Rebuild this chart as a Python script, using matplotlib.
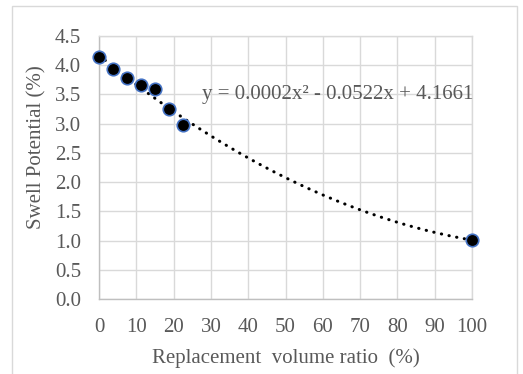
import numpy as np
import matplotlib
matplotlib.use("Agg")
import matplotlib.pyplot as plt
from matplotlib.patches import Rectangle

ratio = [0, 3.75, 7.5, 11.25, 15, 18.75, 22.5, 100]
swell = [4.14, 3.93, 3.78, 3.67, 3.60, 3.25, 2.97, 1.01]
x_ticks = [0, 10, 20, 30, 40, 50, 60, 70, 80, 90, 100]
y_ticks = [0.0, 0.5, 1.0, 1.5, 2.0, 2.5, 3.0, 3.5, 4.0, 4.5]
equation = "y = 0.0002x\u00b2 - 0.0522x + 4.1661"

plt.rcParams['font.family'] = ['Liberation Serif', 'DejaVu Serif']
txt = '#595959'

fig = plt.figure(figsize=(5.23, 3.74), dpi=100)
W, H = 523, 374
ax = fig.add_axes([99 / W, 1 - 299 / H, (472 - 99) / W, (299 - 36) / H])

# outer chart border
fig.patches.append(Rectangle((12 / W, -0.05), (517 - 12) / W, 1 - 6 / H + 0.05,
                             transform=fig.transFigure, fill=False,
                             edgecolor='#d9d9d9', linewidth=1.0))

coef = np.polyfit(ratio, swell, 2)
xs = np.linspace(0, 100, 300)
ax.plot(xs, np.polyval(coef, xs), color='black', linestyle=(0, (0.1, 2.45)),
        linewidth=2.2, dash_capstyle='round', zorder=3)
ax.plot(ratio, swell, 'o', markersize=9, markerfacecolor='black',
        markeredgecolor='#4472C4', markeredgewidth=1.2, zorder=4, clip_on=False)

ax.set_xlim(0, 100)
ax.set_ylim(0, 4.5)
ax.set_xticks(x_ticks)
ax.set_yticks(y_ticks)
ax.set_yticklabels([f"{v:.1f}" for v in y_ticks])
ax.grid(True, color='#d9d9d9', linewidth=1.0)
ax.set_axisbelow(True)
for s in ['top', 'right']:
    ax.spines[s].set_color('#d9d9d9')
for s in ['left', 'bottom']:
    ax.spines[s].set_color('#bfbfbf')
for s in ax.spines.values():
    s.set_linewidth(1.0)
ax.tick_params(length=0, labelsize=15, labelcolor=txt)
ax.tick_params(axis='x', pad=14)
ax.tick_params(axis='y', pad=13)

ax.set_xlabel("Replacement  volume ratio  (%)", fontsize=15, color=txt, labelpad=8)
ax.set_ylabel("Swell Potential (%)", fontsize=15, color=txt, va='center')
ax.yaxis.set_label_coords((37 - 99) / 373, (299 - 147) / 263)

ax.text(473 / W, 1 - 94 / H, equation, transform=fig.transFigure, fontsize=15,
        color=txt, ha='right', va='center')

fig.savefig("out.png", dpi=100)
